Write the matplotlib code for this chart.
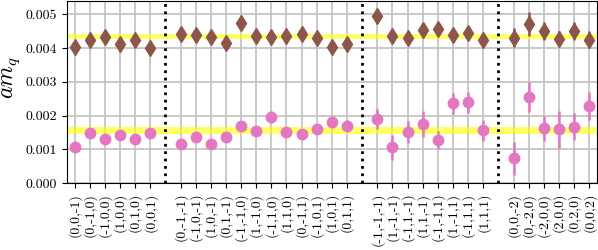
import numpy as np
import matplotlib
matplotlib.use("Agg")
import matplotlib.pyplot as plt
from matplotlib.ticker import FormatStrFormatter

plt.rcParams['font.family'] = 'serif'
plt.rcParams['font.serif'] = ['cmr10']
plt.rcParams['mathtext.fontset'] = 'cm'
plt.rcParams['axes.formatter.use_mathtext'] = True

groups = [
    ["(0,0,-1)", "(0,-1,0)", "(-1,0,0)", "(1,0,0)", "(0,1,0)", "(0,0,1)"],
    ["(0,-1,-1)", "(-1,0,-1)", "(1,0,-1)", "(0,1,-1)", "(-1,-1,0)", "(1,-1,0)",
     "(-1,1,0)", "(1,1,0)", "(0,-1,1)", "(-1,0,1)", "(1,0,1)", "(0,1,1)"],
    ["(-1,-1,-1)", "(1,-1,-1)", "(-1,1,-1)", "(1,1,-1)", "(-1,-1,1)", "(1,-1,1)",
     "(-1,1,1)", "(1,1,1)"],
    ["(0,0,-2)", "(0,-2,0)", "(-2,0,0)", "(2,0,0)", "(0,2,0)", "(0,0,2)"],
]

# heavy (brown diamonds)
heavy_vals = [
    0.00405, 0.00425, 0.00433, 0.00412, 0.00423, 0.00401,
    0.00442, 0.00438, 0.00433, 0.00415, 0.00476, 0.00437,
    0.00432, 0.00437, 0.00443, 0.00430, 0.00405, 0.00412,
    0.00496, 0.00437, 0.00429, 0.00454, 0.00457, 0.00440, 0.00446, 0.00423,
    0.00431, 0.00471, 0.00451, 0.00428, 0.00452, 0.00425,
]
heavy_errs = [
    0.00008, 0.00008, 0.00008, 0.00008, 0.00008, 0.00008,
    0.00010, 0.00010, 0.00010, 0.00010, 0.00010, 0.00010,
    0.00010, 0.00010, 0.00010, 0.00010, 0.00010, 0.00010,
    0.00020, 0.00012, 0.00012, 0.00013, 0.00015, 0.00012, 0.00013, 0.00014,
    0.00028, 0.00036, 0.00028, 0.00022, 0.00027, 0.00025,
]
# light (pink circles)
light_vals = [
    0.00107, 0.00149, 0.00132, 0.00142, 0.00132, 0.00149,
    0.00115, 0.00137, 0.00117, 0.00137, 0.00170, 0.00154,
    0.00196, 0.00150, 0.00145, 0.00160, 0.00180, 0.00170,
    0.00189, 0.00106, 0.00152, 0.00175, 0.00127, 0.00236, 0.00239, 0.00157,
    0.00073, 0.00256, 0.00162, 0.00159, 0.00167, 0.00229,
]
light_errs = [
    0.00006, 0.00007, 0.00007, 0.00008, 0.00007, 0.00007,
    0.00012, 0.00012, 0.00012, 0.00013, 0.00015, 0.00015,
    0.00018, 0.00014, 0.00014, 0.00013, 0.00017, 0.00016,
    0.00030, 0.00037, 0.00032, 0.00039, 0.00027, 0.00031, 0.00032, 0.00031,
    0.00050, 0.00045, 0.00037, 0.00055, 0.00040, 0.00041,
]
heavy_band = (0.00427, 0.00443)
light_band = (0.00145, 0.00167)

# positions with one empty slot between groups
xpos, labels, seps = [], [], []
p = 0
for gi, g in enumerate(groups):
    for lab in g:
        xpos.append(p)
        labels.append(lab)
        p += 1
    if gi < len(groups) - 1:
        seps.append(p)
        p += 1
xpos = np.array(xpos)

fig = plt.figure(figsize=(5.98, 2.5), dpi=100)
ax = fig.add_axes([0.112, 0.268, 0.886, 0.728])

ax.axhspan(*heavy_band, color='yellow', alpha=0.6, lw=0, zorder=1)
ax.axhspan(*light_band, color='yellow', alpha=0.6, lw=0, zorder=1)

ax.errorbar(xpos, heavy_vals, yerr=heavy_errs, fmt='d', color='#8c564b',
            ms=8, elinewidth=1.8, capsize=0, zorder=3)
ax.errorbar(xpos, light_vals, yerr=light_errs, fmt='o', color='#e377c2',
            ms=7.5, elinewidth=1.8, capsize=0, zorder=3)

for s in seps:
    ax.axvline(s, color='black', ls=':', lw=2, zorder=4)

ax.set_xticks(xpos)
ax.set_xticklabels(labels, rotation=90, fontsize=10)
ax.set_xlim(-0.5, p - 0.5)
ax.set_ylim(0, 0.0054)
ax.set_yticks(np.arange(0, 0.0051, 0.001))
ax.yaxis.set_major_formatter(FormatStrFormatter('%.3f'))
ax.tick_params(axis='y', labelsize=10)
ax.grid(True, color='#c0c0c0', lw=1.2, zorder=0)
ax.set_axisbelow(True)
ax.set_ylabel('$am_q$', fontsize=17)
ax.yaxis.set_label_coords(-0.084, 0.58)

fig.savefig('out.png', dpi=100)
